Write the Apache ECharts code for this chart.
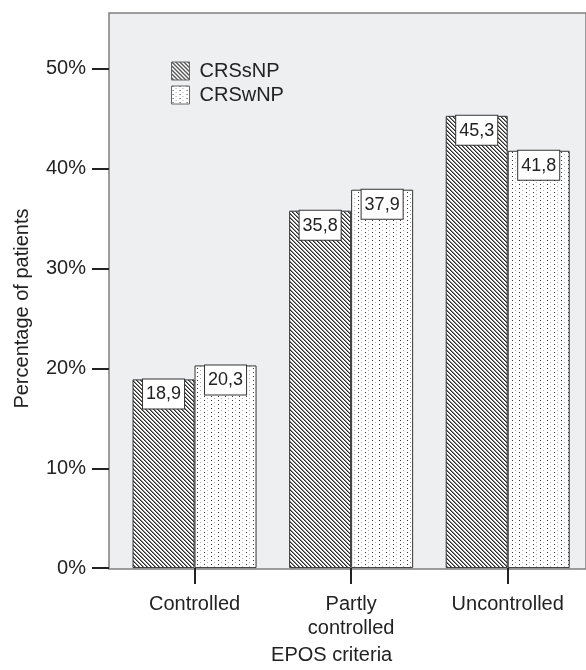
<!DOCTYPE html>
<html>
<head>
<meta charset="utf-8">
<script src="https://cdn.jsdelivr.net/npm/echarts@6/dist/echarts.min.js"></script>
<style>
html,body{margin:0;padding:0;background:#fff;}
#c{width:586px;height:670px;}
</style>
</head>
<body>
<div id="c"></div>
<script>
const categories = ['Controlled', 'Partly\ncontrolled', 'Uncontrolled'];
const seriesNames = ['CRSsNP', 'CRSwNP'];
const crssnp = [18.9, 35.8, 45.3];
const crswnp = [20.3, 37.9, 41.8];
const yTicks = [0, 10, 20, 30, 40, 50];
const yMax = 55.6;
const xTitle = 'EPOS criteria';
const yTitle = 'Percentage of patients';

function hatchPattern() {
  const c = document.createElement('canvas');
  c.width = 4; c.height = 4;
  const g = c.getContext('2d');
  g.fillStyle = '#ffffff'; g.fillRect(0, 0, 4, 4);
  g.fillStyle = '#2a2a2a';
  for (let i = 0; i < 4; i++) g.fillRect(i, i, 1, 1);
  g.fillStyle = '#8a8a8a';
  for (let i = 0; i < 4; i++) g.fillRect((i + 1) % 4, i, 1, 1);
  return c;
}
function dotPattern() {
  const c = document.createElement('canvas');
  c.width = 7; c.height = 4;
  const g = c.getContext('2d');
  g.fillStyle = '#ffffff'; g.fillRect(0, 0, 7, 4);
  g.fillStyle = '#333333'; g.fillRect(1, 0, 1, 1);
  g.fillStyle = '#b0b0b0'; g.fillRect(4, 2, 1, 1);
  return c;
}

const font = 'Liberation Sans, Arial, sans-serif';
const txt = '#222222';

const chart = echarts.init(document.getElementById('c'), null, {renderer: 'canvas'});
const labelCfg = {
  show: true,
  position: 'insideTop',
  distance: 0,
  fontFamily: font,
  fontSize: 18,
  color: txt,
  backgroundColor: '#ffffff',
  borderColor: '#333333',
  borderWidth: 1,
  padding: [6, 3, 5, 3],
  formatter: p => p.value.toFixed(1).replace('.', ',')
};

chart.setOption({
  animation: false,
  backgroundColor: '#ffffff',
  textStyle: {fontFamily: font},
  grid: [
    {left: 109, top: 13, width: 520, height: 556, show: true,
     backgroundColor: '#eeeff1', borderColor: '#7f7f7f', borderWidth: 1.5},
    {left: 116.25, top: 13, width: 472.5, height: 556}
  ],
  legend: {
    orient: 'vertical', left: 166, top: 56,
    itemWidth: 18, itemHeight: 18, itemGap: 4,
    icon: 'rect',
    itemStyle: {borderColor: '#666666', borderWidth: 1},
    textStyle: {fontFamily: font, fontSize: 20, color: txt, padding: [0, 0, 0, 5]},
    data: seriesNames
  },
  xAxis: [
    {gridIndex: 0, type: 'value', show: false, min: 0, max: 1},
    {gridIndex: 1, type: 'category', data: categories,
     axisLine: {show: false},
     axisTick: {show: true, alignWithLabel: true, length: 16, lineStyle: {color: txt, width: 2}},
     axisLabel: {fontFamily: font, fontSize: 20, color: txt, margin: 24, lineHeight: 24},
     name: xTitle, nameLocation: 'middle', nameGap: 74,
     nameTextStyle: {fontFamily: font, fontSize: 20, color: txt, padding: [0, 39, 0, 0]}}
  ],
  yAxis: [
    {gridIndex: 0, type: 'value', show: false, min: 0, max: 1},
    {gridIndex: 1, type: 'value', min: 0, max: yMax, interval: 10, offset: 7.25,
     axisLine: {show: false},
     splitLine: {show: false},
     axisTick: {show: true, length: 17, customValues: yTicks, lineStyle: {color: txt, width: 2}},
     axisLabel: {fontFamily: font, fontSize: 20, color: txt, margin: 23, customValues: yTicks,
                 formatter: v => v + '%'},
     name: yTitle, nameLocation: 'middle', nameGap: 77,
     nameTextStyle: {fontFamily: font, fontSize: 20, color: txt, padding: [0, 36, 0, 0]}}
  ],
  series: [
    {name: seriesNames[0], type: 'bar', xAxisIndex: 1, yAxisIndex: 1, data: crssnp,
     barWidth: 62, barGap: '0%',
     itemStyle: {color: {image: hatchPattern(), repeat: 'repeat'}, borderColor: '#333333', borderWidth: 1},
     label: labelCfg},
    {name: seriesNames[1], type: 'bar', xAxisIndex: 1, yAxisIndex: 1, data: crswnp,
     barWidth: 62, barGap: '0%',
     itemStyle: {color: {image: dotPattern(), repeat: 'repeat'}, borderColor: '#333333', borderWidth: 1},
     label: labelCfg}
  ]
});
</script>
</body>
</html>
